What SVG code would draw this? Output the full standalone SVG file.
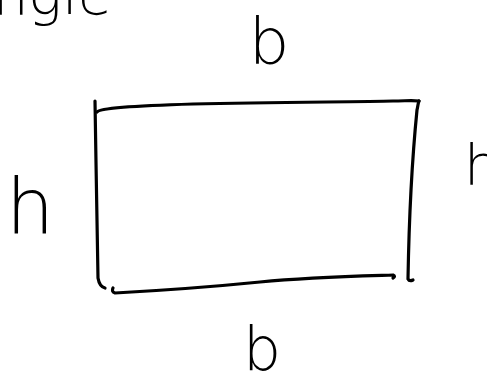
<svg xmlns="http://www.w3.org/2000/svg" width="487" height="386" viewBox="0 0 487 386">
<style>
.s{fill:none;stroke:#000;stroke-width:3.2;stroke-linecap:round;stroke-linejoin:round}
.t{font-family:"DejaVu Sans","Liberation Sans",sans-serif;font-weight:300;fill:#000}
</style>
<rect width="487" height="386" fill="#fff"/>
<text class="t" x="112" y="14" font-size="56" text-anchor="end">Rectangle</text>
<g id="rectangle">
<path class="s" d="M95,101 C96,160 97,230 98,278 C99,284 101,287 105,288"/>
<path class="s" d="M97,112 C100,108 130,106 193,104 C280,102 360,102 393,101 C405,101 412,100 419,101"/>
<path class="s" d="M419,101 C418,103 418,106 417,110 C412,160 409,220 408,279 C409,281 411,281 413,280"/>
<path class="s" d="M113,288 C112,290 112,292 115,293 C170,290 220,286 260,282 C310,277 360,276 393,275 C395,276 395,277 393,278"/>
</g>
<g id="labels">
<text class="t" x="262" y="370" font-size="60" text-anchor="middle">b</text>
<text class="t" x="269" y="64" font-size="64" text-anchor="middle">b</text>
<text class="t" x="30" y="233" font-size="76" text-anchor="middle">h</text>
<text class="t" x="464" y="184" font-size="56">h</text>
</g>
</svg>
